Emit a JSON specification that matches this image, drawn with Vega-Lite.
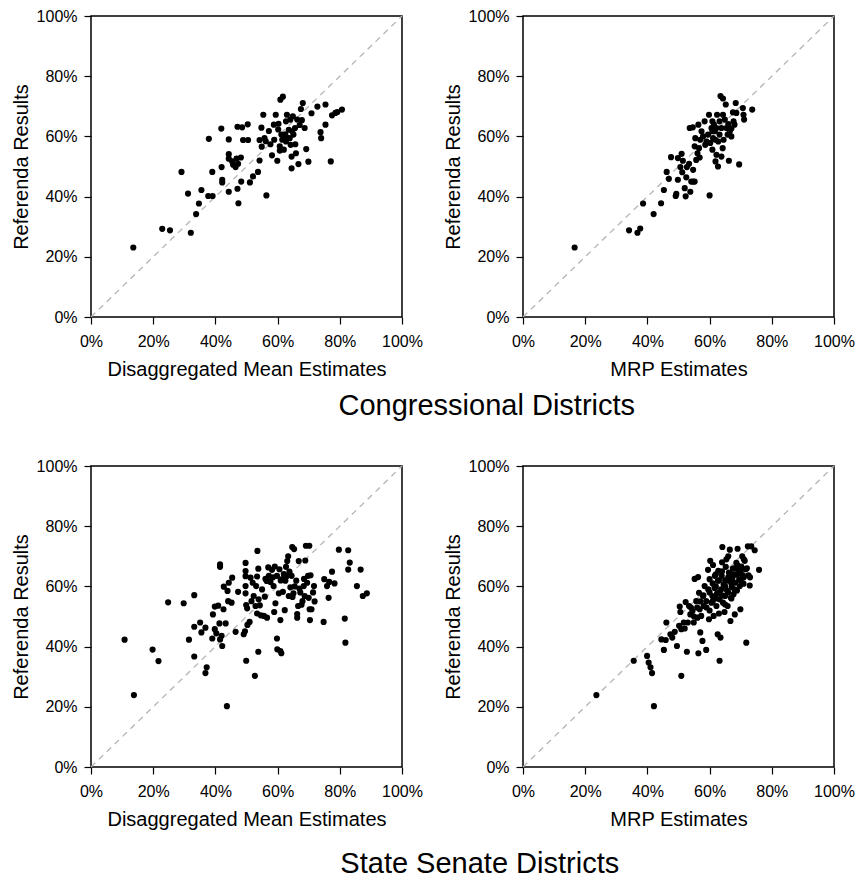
{
  "$schema": "https://vega.github.io/schema/vega-lite/v6.json",
  "background": "white",
  "padding": {"left": 10, "top": 7, "right": 5, "bottom": 0},
  "config": {
    "view": {"stroke": "black", "strokeWidth": 1.5},
    "font": "Liberation Sans",
    "axis": {
      "domain": false, "grid": false, "ticks": true, "tickColor": "black", "tickSize": 7, "tickWidth": 1.2,
      "labelFlush": false, "labelOverlap": false, "labelBound": false,
      "labelFont": "Liberation Sans", "labelFontSize": 16, "labelColor": "black",
      "titleFont": "Liberation Sans", "titleFontSize": 20, "titleFontWeight": "normal", "titleColor": "black"
    },
    "axisX": {"titlePadding": 10, "labelPadding": 9},
    "axisY": {"titlePadding": 5, "labelPadding": 7},
    "title": {"font": "Liberation Sans", "fontSize": 29, "fontWeight": "normal", "color": "black", "orient": "bottom", "anchor": "middle", "offset": 10}
  },
  "datasets": {
    "c_dm": [
      {"x":13.6,"y":23.1},{"x":22.9,"y":29.3},{"x":25.4,"y":28.8},{"x":32.1,"y":28},{"x":29.1,"y":48.2},{"x":31.2,"y":41},{"x":33.8,"y":34.2},{"x":34.7,"y":37.7},{"x":35.5,"y":42.2},{"x":37.7,"y":40.2},{"x":39.1,"y":40.2},{"x":37.9,"y":59.2},{"x":39,"y":48.2},{"x":41.9,"y":62.6},{"x":42,"y":49.8},{"x":42.2,"y":45.6},{"x":42.2,"y":44.7},{"x":44.3,"y":41.6},{"x":44.3,"y":59},{"x":44.3,"y":54.1},{"x":44.3,"y":52.6},{"x":45.4,"y":51.7},{"x":45.7,"y":50.6},{"x":46.5,"y":49.8},{"x":46.8,"y":52.6},{"x":47.3,"y":50.9},{"x":48.2,"y":53},{"x":47.1,"y":63.2},{"x":48.6,"y":63},{"x":48.3,"y":45},{"x":47.1,"y":42.6},{"x":47.4,"y":37.8},{"x":48.9,"y":58.8},{"x":50.5,"y":58.8},{"x":50.4,"y":64},{"x":51.1,"y":44.7},{"x":52.1,"y":46.7},{"x":53.7,"y":48.2},{"x":54.2,"y":52},{"x":54.2,"y":58.8},{"x":54.8,"y":62.9},{"x":55.4,"y":67.2},{"x":54.9,"y":56.6},{"x":55.8,"y":59.4},{"x":56.4,"y":40.4},{"x":57.2,"y":61.8},{"x":57.7,"y":57.4},{"x":58.2,"y":53.7},{"x":58.8,"y":63.9},{"x":58.9,"y":58.9},{"x":59.4,"y":67.2},{"x":59.9,"y":51.9},{"x":60.3,"y":64.2},{"x":60.7,"y":56.7},{"x":60.7,"y":55.3},{"x":60.9,"y":72.2},{"x":61.7,"y":73.2},{"x":61.5,"y":58.9},{"x":62,"y":55.6},{"x":62.5,"y":60.7},{"x":62.7,"y":58.3},{"x":62.7,"y":65},{"x":63,"y":67.2},{"x":63.6,"y":62.2},{"x":63.9,"y":59.4},{"x":64.2,"y":57.2},{"x":64.5,"y":53.3},{"x":64.5,"y":49.4},{"x":64.9,"y":66.7},{"x":65.1,"y":60.6},{"x":65.6,"y":62.8},{"x":65.7,"y":57.4},{"x":65.9,"y":54.4},{"x":66.3,"y":65.6},{"x":66.7,"y":50.8},{"x":67.1,"y":63.8},{"x":67.5,"y":69.1},{"x":67.8,"y":65.4},{"x":68.1,"y":71.1},{"x":68.7,"y":62.8},{"x":69.2,"y":55.8},{"x":69.9,"y":51.6},{"x":70.9,"y":67.7},{"x":72.8,"y":69.9},{"x":73.8,"y":61.4},{"x":74,"y":59.4},{"x":75.4,"y":70.6},{"x":75.4,"y":63.9},{"x":77.1,"y":51.7},{"x":77.5,"y":67},{"x":78.6,"y":67.8},{"x":79.2,"y":68.1},{"x":80.7,"y":68.9},{"x":62,"y":59.4},{"x":63.1,"y":59.4},{"x":61.2,"y":60.6},{"x":64.7,"y":61.7},{"x":64.1,"y":65.6},{"x":60.2,"y":62.3},{"x":56.2,"y":58.4}
    ],
    "c_mrp": [
      {"x":16.6,"y":23.1},{"x":34.1,"y":28.8},{"x":36.8,"y":28},{"x":37.7,"y":29.4},{"x":38.6,"y":37.7},{"x":42,"y":34.2},{"x":44.4,"y":37.8},{"x":45.3,"y":42.2},{"x":46.2,"y":48.2},{"x":46.9,"y":45.9},{"x":47.6,"y":53.1},{"x":49.1,"y":40.2},{"x":49.3,"y":40.9},{"x":49.8,"y":45.6},{"x":49.8,"y":52.8},{"x":50.6,"y":49.8},{"x":51,"y":54.2},{"x":51.2,"y":48.1},{"x":51.4,"y":51.9},{"x":52,"y":42.8},{"x":52.3,"y":40.1},{"x":52.5,"y":46.4},{"x":52.7,"y":49.8},{"x":53.4,"y":50.9},{"x":53.8,"y":41.6},{"x":54.1,"y":45},{"x":54.7,"y":45},{"x":55.2,"y":45},{"x":53.6,"y":62.8},{"x":54.6,"y":63},{"x":54.7,"y":48.9},{"x":55.2,"y":56.7},{"x":55.4,"y":59.4},{"x":55.7,"y":52.2},{"x":56.1,"y":54.4},{"x":56.4,"y":63.9},{"x":56.6,"y":56.1},{"x":57,"y":58.9},{"x":57.4,"y":61.7},{"x":57.9,"y":60},{"x":58.4,"y":65},{"x":59,"y":58.3},{"x":59.5,"y":60.6},{"x":59.8,"y":67.2},{"x":60,"y":40.4},{"x":60.2,"y":57.8},{"x":60.6,"y":62.8},{"x":60.9,"y":55.6},{"x":61.1,"y":59.4},{"x":61.4,"y":63.9},{"x":61.7,"y":61.7},{"x":61.9,"y":51.7},{"x":62.2,"y":53.9},{"x":62.4,"y":67.2},{"x":62.7,"y":50},{"x":62.8,"y":58.3},{"x":63.2,"y":65},{"x":63.5,"y":73.4},{"x":63.8,"y":53.3},{"x":64.2,"y":56.1},{"x":64.3,"y":72.6},{"x":64.5,"y":58.9},{"x":64.9,"y":65.6},{"x":65.2,"y":70.6},{"x":65.4,"y":62.8},{"x":66,"y":64.1},{"x":66.2,"y":51.9},{"x":66.5,"y":61.7},{"x":67,"y":60},{"x":67.5,"y":68},{"x":67.7,"y":65},{"x":68,"y":63.9},{"x":68.4,"y":71.1},{"x":68.6,"y":67.8},{"x":69.5,"y":50.7},{"x":70.7,"y":69.4},{"x":70.9,"y":67.2},{"x":71.1,"y":65.6},{"x":73.7,"y":68.9},{"x":60.9,"y":61.7},{"x":61.9,"y":58.9},{"x":63.2,"y":60.6},{"x":63.8,"y":62.8},{"x":65.8,"y":60.6},{"x":64.3,"y":67.2},{"x":62.2,"y":62.8},{"x":60.9,"y":65},{"x":67,"y":62.6},{"x":58.6,"y":57.2},{"x":56.8,"y":53}
    ],
    "s_dm": [
      {"x":10.8,"y":42.3},{"x":13.8,"y":23.9},{"x":19.8,"y":39},{"x":21.7,"y":35.2},{"x":24.8,"y":54.7},{"x":29.8,"y":54.4},{"x":31.5,"y":42.3},{"x":33.2,"y":57.1},{"x":33.2,"y":46.6},{"x":33.2,"y":36.7},{"x":35.1,"y":48},{"x":35.5,"y":44.7},{"x":36.8,"y":46.3},{"x":36.8,"y":31.2},{"x":37.2,"y":33.1},{"x":39,"y":42.7},{"x":39.2,"y":50.7},{"x":39.8,"y":45.8},{"x":39.8,"y":53.3},{"x":40.3,"y":44.4},{"x":40.9,"y":53.6},{"x":41.3,"y":47.7},{"x":41.5,"y":67.3},{"x":41.5,"y":66.5},{"x":41.5,"y":42.4},{"x":42,"y":43.6},{"x":42.2,"y":40.2},{"x":42.6,"y":52.4},{"x":42.7,"y":59.9},{"x":43.3,"y":47.7},{"x":43.7,"y":20.2},{"x":43.9,"y":58.5},{"x":44.1,"y":55.1},{"x":44.3,"y":61.2},{"x":45.2,"y":54.6},{"x":45.4,"y":62.9},{"x":46.5,"y":44.9},{"x":47.3,"y":58.2},{"x":49.1,"y":44.1},{"x":49.5,"y":45.1},{"x":49.7,"y":67.8},{"x":49.7,"y":65.1},{"x":49.7,"y":63.4},{"x":49.7,"y":60.1},{"x":49.7,"y":57.7},{"x":49.9,"y":53.8},{"x":49.9,"y":35.3},{"x":50.2,"y":52.7},{"x":50.3,"y":47.2},{"x":51,"y":48.2},{"x":51.3,"y":62.9},{"x":51.6,"y":55.1},{"x":52,"y":61.2},{"x":52.3,"y":56.8},{"x":52.7,"y":30.3},{"x":52.9,"y":53.5},{"x":53.1,"y":60.1},{"x":53.4,"y":51},{"x":53.4,"y":63.3},{"x":53.5,"y":71.8},{"x":53.8,"y":65.9},{"x":53.8,"y":38.3},{"x":53.9,"y":55.7},{"x":54.3,"y":53.7},{"x":54.6,"y":50.4},{"x":55,"y":59},{"x":55.6,"y":50.2},{"x":55.9,"y":56.6},{"x":56.1,"y":62.5},{"x":56.6,"y":49.6},{"x":57,"y":66.3},{"x":57.2,"y":63.5},{"x":57.7,"y":61.5},{"x":58.2,"y":65.5},{"x":58.7,"y":60.1},{"x":58.9,"y":51.5},{"x":59.1,"y":66.6},{"x":59.3,"y":54.4},{"x":59.8,"y":63.5},{"x":59.8,"y":42.7},{"x":59.9,"y":39.1},{"x":60.4,"y":57.7},{"x":60.6,"y":65.7},{"x":60.9,"y":38.5},{"x":60.9,"y":48.8},{"x":61.2,"y":37.8},{"x":61.5,"y":62.4},{"x":61.7,"y":58.2},{"x":62,"y":64.1},{"x":62.3,"y":52.1},{"x":62.5,"y":61.9},{"x":62.7,"y":66.5},{"x":63.1,"y":68.4},{"x":63.4,"y":70},{"x":63.6,"y":56.8},{"x":63.8,"y":64.9},{"x":64.1,"y":59.7},{"x":64.5,"y":63.5},{"x":64.7,"y":73.1},{"x":65.1,"y":57.7},{"x":65.3,"y":72.4},{"x":65.5,"y":60},{"x":66,"y":61.9},{"x":66.3,"y":50.8},{"x":66.3,"y":49.6},{"x":66.6,"y":53.5},{"x":66.8,"y":68.4},{"x":67,"y":59.3},{"x":67.3,"y":58},{"x":67.7,"y":53.9},{"x":68,"y":55.1},{"x":68.4,"y":60.1},{"x":68.7,"y":56.8},{"x":68.9,"y":68.6},{"x":69.1,"y":73.5},{"x":69.5,"y":61.2},{"x":69.8,"y":63.5},{"x":70,"y":56.2},{"x":70.2,"y":73.5},{"x":70.3,"y":52.4},{"x":70.4,"y":48.8},{"x":70.6,"y":63.7},{"x":70.9,"y":52.4},{"x":71.4,"y":58},{"x":71.7,"y":60.1},{"x":71.9,"y":55},{"x":74.8,"y":48.2},{"x":75,"y":62.4},{"x":75.9,"y":60.1},{"x":76.4,"y":56.2},{"x":76.6,"y":61.5},{"x":77.5,"y":64.9},{"x":78.3,"y":61},{"x":79.7,"y":72.2},{"x":81.6,"y":49.3},{"x":81.8,"y":41.3},{"x":82.7,"y":72},{"x":82.7,"y":65.6},{"x":83.2,"y":67.9},{"x":85.5,"y":60.1},{"x":86.7,"y":65.6},{"x":87.4,"y":56.8},{"x":88.7,"y":57.7},{"x":56.5,"y":61.8},{"x":58.5,"y":63},{"x":62.9,"y":63.4},{"x":61,"y":62},{"x":68.5,"y":62.5},{"x":64.8,"y":56.5}
    ],
    "s_mrp": [
      {"x":23.6,"y":23.9},{"x":35.6,"y":35.3},{"x":39.9,"y":36.9},{"x":40.4,"y":34.7},{"x":41,"y":33.1},{"x":41.5,"y":31.2},{"x":42.1,"y":20.2},{"x":44.5,"y":42.4},{"x":45.3,"y":38.9},{"x":45.9,"y":42.2},{"x":46.1,"y":48},{"x":47.4,"y":44.1},{"x":48,"y":43},{"x":48.8,"y":44.9},{"x":49.5,"y":40.2},{"x":50.2,"y":46.9},{"x":50.4,"y":53.3},{"x":50.6,"y":51.5},{"x":50.9,"y":45.8},{"x":50.9,"y":30.3},{"x":51.7,"y":48},{"x":52.3,"y":54.8},{"x":52.7,"y":38.3},{"x":53.4,"y":53.5},{"x":53.8,"y":50.7},{"x":54.5,"y":51.8},{"x":54.9,"y":48},{"x":55.2,"y":62.5},{"x":55.7,"y":55.1},{"x":56.1,"y":49.6},{"x":56.3,"y":63.1},{"x":56.4,"y":37.8},{"x":56.6,"y":57.9},{"x":56.8,"y":52.4},{"x":57,"y":44.7},{"x":57.3,"y":50.2},{"x":57.7,"y":41.9},{"x":57.9,"y":56.8},{"x":58.1,"y":53.5},{"x":58.4,"y":60.1},{"x":58.9,"y":38.9},{"x":58.9,"y":55.1},{"x":59.5,"y":65.5},{"x":59.6,"y":59},{"x":59.8,"y":49.1},{"x":60,"y":62.4},{"x":60.2,"y":68.5},{"x":60.6,"y":54.6},{"x":60.9,"y":56.8},{"x":61.1,"y":67.1},{"x":61.3,"y":50.2},{"x":61.6,"y":59.5},{"x":61.7,"y":63.5},{"x":62.2,"y":53.5},{"x":62.4,"y":57.7},{"x":62.6,"y":44.1},{"x":62.7,"y":61.9},{"x":62.8,"y":65.2},{"x":63.2,"y":35.3},{"x":63.2,"y":55.7},{"x":63.5,"y":43},{"x":63.7,"y":59},{"x":63.9,"y":63.5},{"x":64.1,"y":73.1},{"x":64.3,"y":54.6},{"x":64.5,"y":60.6},{"x":64.8,"y":51.5},{"x":65,"y":56.8},{"x":65.2,"y":66.5},{"x":65.4,"y":69},{"x":65.6,"y":58.6},{"x":65.8,"y":53.5},{"x":66,"y":61.9},{"x":66.2,"y":64.6},{"x":66.5,"y":72.2},{"x":66.7,"y":48.5},{"x":66.9,"y":56.2},{"x":67.1,"y":59.8},{"x":67.3,"y":62.6},{"x":67.5,"y":65.9},{"x":67.7,"y":57.4},{"x":68.1,"y":50.7},{"x":68.2,"y":61.2},{"x":68.4,"y":63.9},{"x":68.6,"y":67.8},{"x":68.8,"y":58.6},{"x":69,"y":72.5},{"x":69.2,"y":65.5},{"x":69.5,"y":62.3},{"x":69.7,"y":60.1},{"x":69.9,"y":52.4},{"x":70.2,"y":66.6},{"x":70.5,"y":70},{"x":70.7,"y":63.7},{"x":70.9,"y":60.9},{"x":71.3,"y":68.5},{"x":71.6,"y":65.7},{"x":71.8,"y":41.3},{"x":72.3,"y":73.3},{"x":72.5,"y":63.7},{"x":72.9,"y":60.3},{"x":73.4,"y":73.3},{"x":74.5,"y":72},{"x":75.9,"y":65.5},
      {"x":58,"y":57},{"x":59,"y":53},{"x":60,"y":58},{"x":61,"y":61},{"x":62,"y":56},{"x":62,"y":60},{"x":63,"y":62},{"x":63,"y":58},{"x":64,"y":57},{"x":64,"y":65},{"x":65,"y":62},{"x":65,"y":60},{"x":66,"y":58},{"x":66,"y":63},{"x":67,"y":64},{"x":67,"y":61},{"x":68,"y":66},{"x":68,"y":59},{"x":69,"y":64},{"x":69,"y":67},{"x":70,"y":62},{"x":70,"y":65},{"x":71,"y":63},{"x":72,"y":66},{"x":73,"y":63},{"x":71,"y":69},{"x":60,"y":52},{"x":61,"y":55},{"x":57,"y":55},{"x":56,"y":53},{"x":55,"y":50},{"x":54,"y":53},{"x":53,"y":48},{"x":52,"y":46},{"x":62,"y":64},{"x":64,"y":68},{"x":66,"y":70},{"x":65,"y":54},{"x":63,"y":51},{"x":67,"y":56}
    ],
    "diag": [{"d": 0}, {"d": 100}]
  },
  "spacing": 36,
  "vconcat": [
    {
      "title": {"text": "Congressional Districts", "offset": 12, "dx": 54},
      "spacing": 18,
      "hconcat": [
        {
          "width": 311, "height": 301,
          "layer": [
            {"data": {"name": "diag"}, "mark": {"type": "line", "color": "#b4b4b4", "strokeDash": [6, 5], "strokeWidth": 1.3},
             "encoding": {"x": {"field": "d", "type": "quantitative"}, "y": {"field": "d", "type": "quantitative"}}},
            {"data": {"name": "c_dm"}, "mark": {"type": "circle", "color": "black", "opacity": 1, "size": 38},
             "encoding": {
               "x": {"field": "x", "type": "quantitative", "scale": {"domain": [0, 100], "nice": false}, "axis": {"title": "Disaggregated Mean Estimates", "values": [0, 20, 40, 60, 80, 100], "labelExpr": "datum.value + '%'"}},
               "y": {"field": "y", "type": "quantitative", "scale": {"domain": [0, 100], "nice": false}, "axis": {"title": "Referenda Results", "values": [0, 20, 40, 60, 80, 100], "labelExpr": "datum.value + '%'"}}
             }}
          ]
        },
        {
          "width": 311, "height": 301,
          "layer": [
            {"data": {"name": "diag"}, "mark": {"type": "line", "color": "#b4b4b4", "strokeDash": [6, 5], "strokeWidth": 1.3},
             "encoding": {"x": {"field": "d", "type": "quantitative"}, "y": {"field": "d", "type": "quantitative"}}},
            {"data": {"name": "c_mrp"}, "mark": {"type": "circle", "color": "black", "opacity": 1, "size": 38},
             "encoding": {
               "x": {"field": "x", "type": "quantitative", "scale": {"domain": [0, 100], "nice": false}, "axis": {"title": "MRP Estimates", "values": [0, 20, 40, 60, 80, 100], "labelExpr": "datum.value + '%'"}},
               "y": {"field": "y", "type": "quantitative", "scale": {"domain": [0, 100], "nice": false}, "axis": {"title": "Referenda Results", "values": [0, 20, 40, 60, 80, 100], "labelExpr": "datum.value + '%'"}}
             }}
          ]
        }
      ]
    },
    {
      "title": {"text": "State Senate Districts", "offset": 20, "dx": 47},
      "spacing": 18,
      "hconcat": [
        {
          "width": 311, "height": 301,
          "layer": [
            {"data": {"name": "diag"}, "mark": {"type": "line", "color": "#b4b4b4", "strokeDash": [6, 5], "strokeWidth": 1.3},
             "encoding": {"x": {"field": "d", "type": "quantitative"}, "y": {"field": "d", "type": "quantitative"}}},
            {"data": {"name": "s_dm"}, "mark": {"type": "circle", "color": "black", "opacity": 1, "size": 38},
             "encoding": {
               "x": {"field": "x", "type": "quantitative", "scale": {"domain": [0, 100], "nice": false}, "axis": {"title": "Disaggregated Mean Estimates", "values": [0, 20, 40, 60, 80, 100], "labelExpr": "datum.value + '%'"}},
               "y": {"field": "y", "type": "quantitative", "scale": {"domain": [0, 100], "nice": false}, "axis": {"title": "Referenda Results", "values": [0, 20, 40, 60, 80, 100], "labelExpr": "datum.value + '%'"}}
             }}
          ]
        },
        {
          "width": 311, "height": 301,
          "layer": [
            {"data": {"name": "diag"}, "mark": {"type": "line", "color": "#b4b4b4", "strokeDash": [6, 5], "strokeWidth": 1.3},
             "encoding": {"x": {"field": "d", "type": "quantitative"}, "y": {"field": "d", "type": "quantitative"}}},
            {"data": {"name": "s_mrp"}, "mark": {"type": "circle", "color": "black", "opacity": 1, "size": 38},
             "encoding": {
               "x": {"field": "x", "type": "quantitative", "scale": {"domain": [0, 100], "nice": false}, "axis": {"title": "MRP Estimates", "values": [0, 20, 40, 60, 80, 100], "labelExpr": "datum.value + '%'"}},
               "y": {"field": "y", "type": "quantitative", "scale": {"domain": [0, 100], "nice": false}, "axis": {"title": "Referenda Results", "values": [0, 20, 40, 60, 80, 100], "labelExpr": "datum.value + '%'"}}
             }}
          ]
        }
      ]
    }
  ]
}
